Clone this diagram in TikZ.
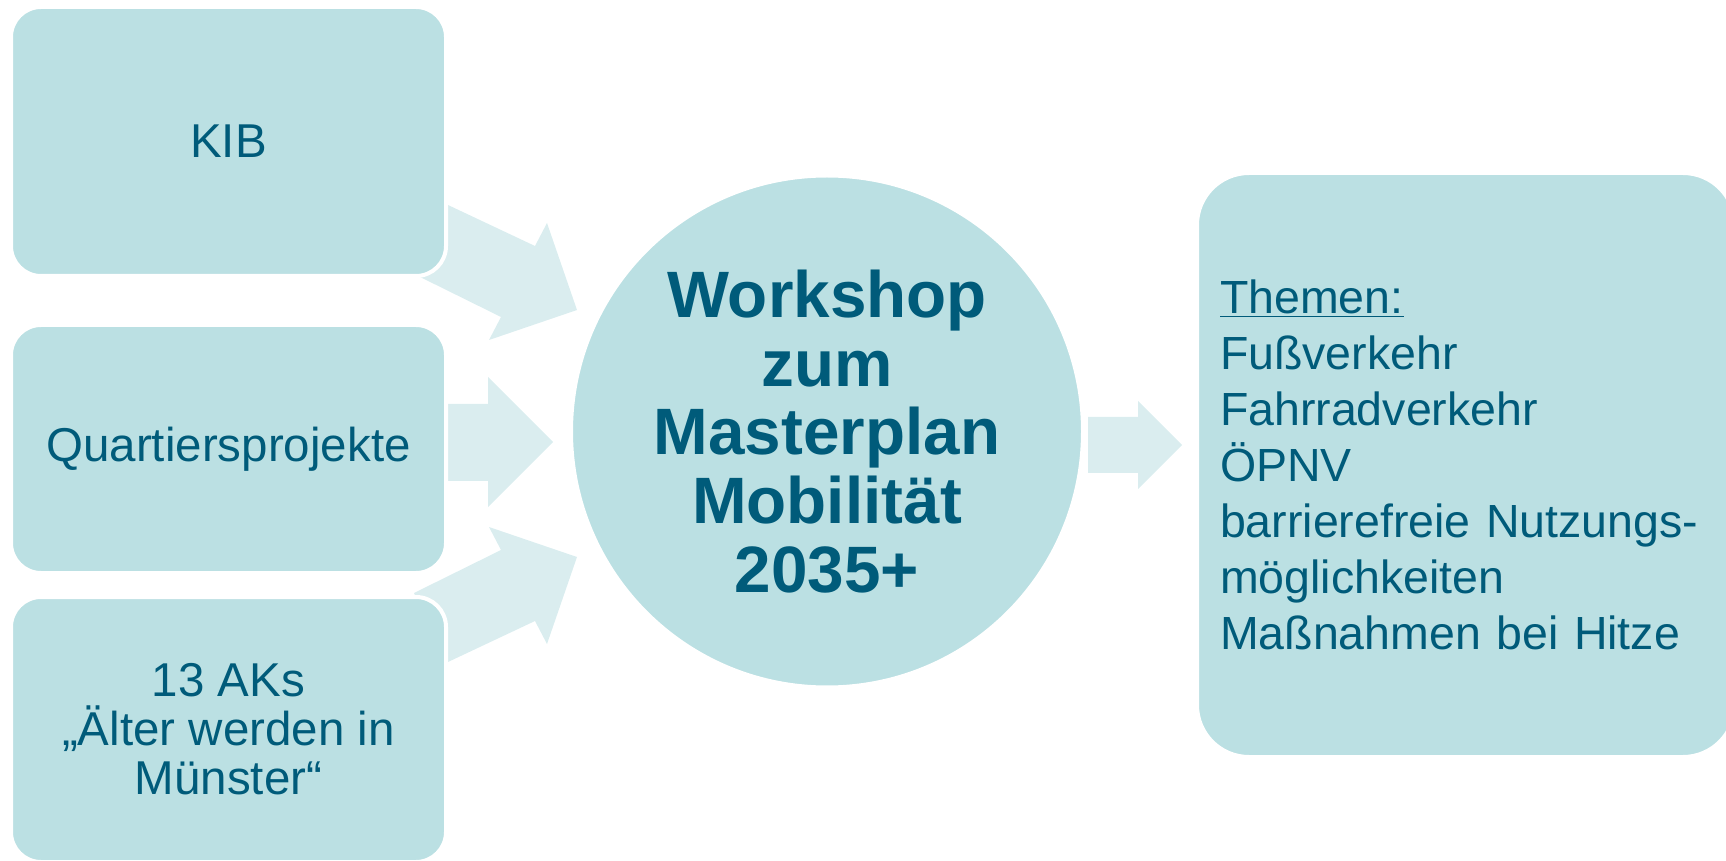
\documentclass[tikz,border=0pt]{standalone}
\usepackage{fontspec}
\setmainfont{Liberation Sans}
\definecolor{boxfill}{RGB}{187,224,227}
\definecolor{arrowfill}{RGB}{218,237,239}
\definecolor{textblue}{RGB}{0,91,122}

\begin{document}
\begin{tikzpicture}[x=0.5pt,y=-0.5pt]
	\tikzstyle{source}=[rectangle,rounded corners=15pt,fill=boxfill,draw=white,line width=2pt,minimum width=217.5pt,inner sep=0pt,text=textblue,align=center,font=\fontsize{23.75}{24.5}\selectfont]
	\tikzstyle{hub}=[circle,fill=boxfill,draw=white,line width=2pt,minimum size=256pt,inner sep=0pt,text=textblue,align=center,font=\bfseries\fontsize{32.8}{34.4}\selectfont]
	\tikzstyle{topics}=[rectangle,rounded corners=26pt,fill=boxfill,draw=white,line width=2pt,minimum width=269pt,minimum height=292pt,inner sep=0pt,text width=246pt,text=textblue,align=left,font=\fontsize{23.25}{28}\selectfont]
	\tikzstyle{flow}=[fill=arrowfill]
	\useasboundingbox (0,0) rectangle (1726,861);

	% block arrows first, the boxes lie over their tails
	\fill[flow] (448,205) -- (535,246) -- (547,223) -- (577,310) -- (489,340) -- (501,317) -- (414,274) -- cycle;
	\fill[flow] (448,404) -- (488,404) -- (488,377) -- (553,442) -- (488,507) -- (488,481) -- (448,481) -- cycle;
	\fill[flow] (448,662) -- (535,621) -- (547,644) -- (577,557) -- (489,527) -- (501,550) -- (414,593) -- cycle;
	\fill[flow] (1088,417) -- (1138,417) -- (1138,401) -- (1182,445) -- (1138,489) -- (1138,473) -- (1088,473) -- cycle;

	\node[source, minimum height=134.5pt] (kib) at (228.5,141.5) {KIB};
	\node[source, minimum height=124pt] (quartier) at (228.5,449) {Quartiersprojekte};
	\node[source, minimum height=132.5pt] (aks) at (228.5,729.5) {13 AKs\\„Älter werden in\\Münster“};

	\node[hub] (workshop) at (827,431.5) {Workshop\\zum\\Masterplan\\Mobilität\\2035+};

	\node[topics] (themen) at (1466,465) {\underline{Themen:}\\Fußverkehr\\Fahrradverkehr\\ÖPNV\\barrierefreie Nutzungs-\\möglichkeiten\\Maßnahmen bei Hitze};
\end{tikzpicture}
\end{document}
